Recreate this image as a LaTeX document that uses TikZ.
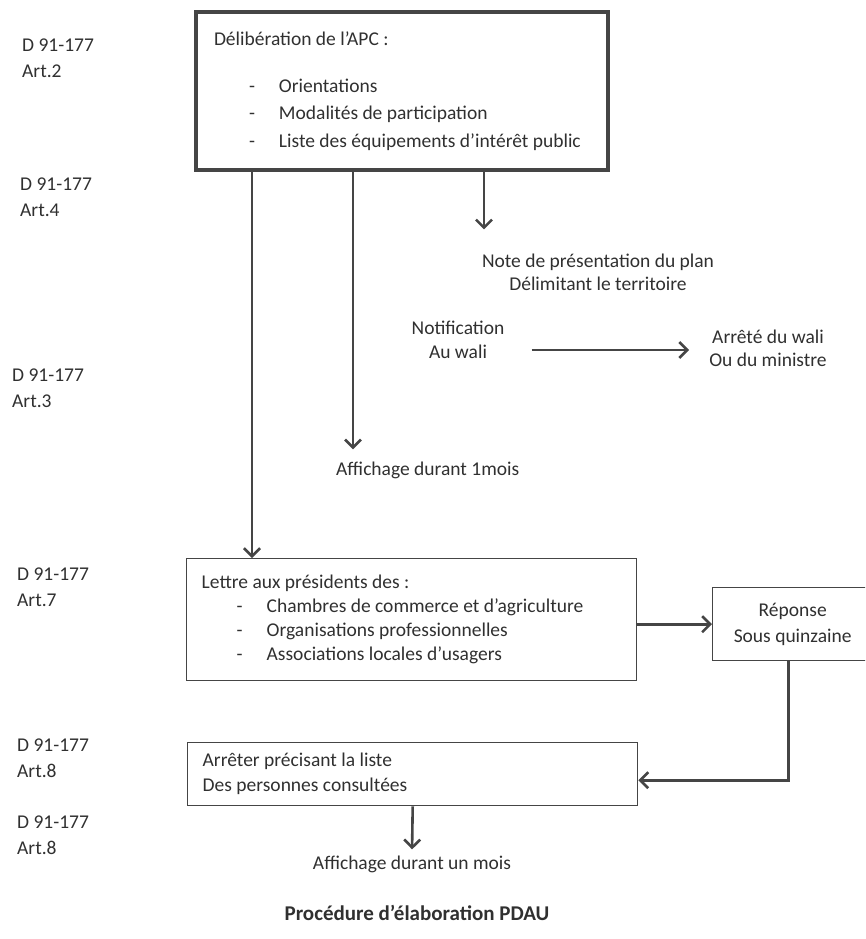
\documentclass[tikz,border=0pt]{standalone}
\usepackage{fontspec}
\setmainfont{Carlito}
\usetikzlibrary{arrows.meta, positioning}

\definecolor{encre}{HTML}{303030}
\definecolor{trait}{HTML}{454545}
\newcommand{\tiret}[1]{\makebox[65pt][l]{\hspace{35pt}-}#1}

\begin{document}
\begin{tikzpicture}[
    x=1pt, y=-1pt, % one unit = one pixel of the scan, y going down
    >={Straight Barb[length=8pt, width=16pt]}, % Set default arrow tip style
    every node/.style={text=encre, font=\fontsize{19.5}{24}\selectfont}, % Text style
    ref/.style={anchor=west, align=left, inner sep=0pt, font=\fontsize{19.5}{26}\selectfont}, % Style for decree references
    txt/.style={align=center, inner sep=2pt}, % Style for free labels
    bigbox/.style={draw=trait, line width=4pt, anchor=north west, align=flush left, inner xsep=18pt}, % Style for the main box
    box/.style={draw=trait, line width=1.4pt, anchor=north west, align=flush left, inner xsep=15pt}, % Style for the other boxes
    fleche/.style={->, draw=trait, line width=2.6pt} % Style for arrows
]
    \useasboundingbox (0,0) rectangle (865,939);
    \clip (0,0) rectangle (865,939);

    % --- Decree references ---
    \node[ref] (ref2) at (22,58) {D 91-177\\Art.2};
    \node[ref] (ref4) at (20,197) {D 91-177\\Art.4};
    \node[ref] (ref3) at (12,388) {D 91-177\\Art.3};
    \node[ref] (ref7) at (17,587) {D 91-177\\Art.7};
    \node[ref] (ref8) at (17,758) {D 91-177\\Art.8};
    \node[ref] (ref8b) at (17,835) {D 91-177\\Art.8};

    % --- Boxes ---
    \node[bigbox, text width=376pt, minimum height=158pt,
          font=\fontsize{19.5}{27.5}\selectfont] (apc) at (194,10)
        {Délibération de l’APC :\\[19pt]
         \tiret{Orientations}\\
         \tiret{Modalités de participation}\\
         \tiret{Liste des équipements d’intérêt public}};

    \node[box, text width=420pt, minimum height=122pt] (lettre) at (186,558)
        {Lettre aux présidents des :\\
         \tiret{Chambres de commerce et d’agriculture}\\
         \tiret{Organisations professionnelles}\\
         \tiret{Associations locales d’usagers}};

    \node[box, text width=130pt, minimum height=73pt, align=flush center,
          font=\fontsize{19.5}{26}\selectfont] (reponse) at (712,587)
        {Réponse\\Sous quinzaine};

    \node[box, text width=420pt, minimum height=63pt,
          font=\fontsize{19.5}{25}\selectfont] (arreter) at (187,742)
        {Arrêter précisant la liste\\Des personnes consultées};

    % --- Free labels ---
    \node[txt, font=\fontsize{19.5}{23}\selectfont] (note) at (598,272)
        {Note de présentation du plan\\Délimitant le territoire};
    \node[txt] (notif) at (458,340) {Notification\\Au wali};
    \node[txt, font=\fontsize{19.5}{23}\selectfont] (arrete) at (768,348)
        {Arrêté du wali\\Ou du ministre};
    \node[txt, anchor=west] (affiche1) at (334,470) {Affichage durant 1mois};
    \node[txt] (affiche2) at (412,864) {Affichage durant un mois};
    \node[txt, font=\fontsize{21}{24}\bfseries] (titre) at (417,913)
        {Procédure d’élaboration PDAU};

    % --- Arrows ---
    \draw[fleche] ([xshift=58pt]apc.south west) -- ([xshift=58pt]apc.south west |- lettre.north);
    \draw[fleche, shorten >=10pt] ([xshift=159pt]apc.south west) -- ([xshift=159pt]apc.south west |- affiche1.north);
    \draw[fleche, shorten >=22pt] ([xshift=290pt]apc.south west) -- ([xshift=290pt]apc.south west |- note.north);
    \draw[fleche, shorten <=25pt, shorten >=18pt] ([yshift=-10pt]notif.east) -- ([yshift=-10pt]notif.east -| arrete.west);
    \draw[fleche] (lettre.east |- reponse.west) -- (reponse.west);
    \draw[fleche] ([xshift=-4pt]reponse.south) |- ([yshift=-6pt]arreter.east);
    \draw[fleche, shorten >=4pt] (arreter.south) -- (affiche2.north);

\end{tikzpicture}
\end{document}
